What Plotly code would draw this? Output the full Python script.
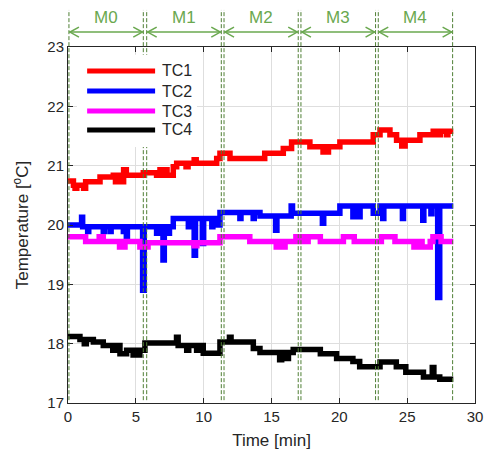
import plotly.graph_objects as go

# ---------------- data (step breakpoints) ----------------
tc1_t = [0, 0.4, 0.52, 0.65, 1.15, 1.3, 2.36, 3.34, 3.5, 3.65, 3.95, 4.1, 4.3, 5.55, 6.53, 6.78, 6.9,
         7.15, 7.3, 7.76, 8.01, 8.7, 8.85, 9.3, 9.45, 10.96, 11.2, 11.94, 14.5, 15.87, 16.48, 17.83,
         18.8, 19.2, 20.04, 22.5, 23.0, 23.73, 24.22, 24.6, 24.85, 25.94, 26.92, 27.3, 27.45, 27.9,
         28.0, 28.4]
tc1_v = [20.74, 20.67, 20.62, 20.67, 20.62, 20.73, 20.81, 20.84, 20.73, 20.84, 20.73, 20.93, 20.84,
         20.88, 20.84, 20.93, 20.84, 20.93, 20.84, 20.98, 21.04, 20.98, 21.04, 21.10, 21.04, 21.12,
         21.21, 21.12, 21.21, 21.29, 21.40, 21.32, 21.23, 21.32, 21.40, 21.52, 21.60, 21.52, 21.43,
         21.33, 21.43, 21.52, 21.58, 21.52, 21.58, 21.52, 21.58, 21.58]

tc2_t = [0, 1.0, 1.08, 1.45, 1.53, 2.6, 2.68, 3.1, 3.18, 4.08, 4.16, 4.3, 4.38, 5.5, 5.62, 6.53, 6.61,
         7.0, 7.1, 7.4, 7.48, 7.76, 8.87, 8.95, 9.3, 9.4, 9.9, 10.0, 10.6, 10.68, 10.96, 11.2,
         12.67, 12.75, 13.65, 13.73, 14.15, 15.3, 15.4, 16.45, 16.55, 18.75, 18.85, 20.04, 21.0, 21.08,
         21.45, 21.53, 22.5, 23.0, 23.2, 23.28, 24.65, 24.73, 26.15, 26.23, 26.75, 26.83, 27.25, 27.4,
         28.4]
tc2_v = [20.00, 20.13, 19.97, 19.89, 19.97, 19.89, 19.97, 19.89, 19.97, 19.89, 19.97, 19.80, 19.97,
         18.90, 19.97, 19.86, 19.97, 19.41, 19.97, 19.86, 19.97, 20.11, 19.97, 20.11, 19.49, 20.11,
         19.69, 20.11, 19.97, 20.11, 20.00, 20.21, 20.11, 20.21, 20.11, 20.21, 20.15, 19.91, 20.15,
         20.32, 20.20, 20.03, 20.20, 20.32, 20.14, 20.32, 20.14, 20.32, 20.20, 20.32, 20.11, 20.32,
         20.11, 20.32, 20.08, 20.32, 20.19, 20.32, 18.78, 20.32, 20.32]

tc3_t = [0, 1.3, 2.3, 2.6, 3.8, 4.2, 5.3, 5.9, 9.3, 9.5, 11.2, 13.4, 15.35, 15.5, 15.85, 16.0, 16.8,
         17.2, 17.35, 17.55, 17.7, 18.6, 20.3, 21.1, 23.1, 24.1, 25.5, 25.9, 26.1, 26.7, 26.9, 27.5,
         28.4]
tc3_v = [19.80, 19.72, 19.80, 19.72, 19.63, 19.72, 19.63, 19.70, 19.65, 19.70, 19.80, 19.72, 19.63,
         19.72, 19.63, 19.72, 19.80, 19.72, 19.80, 19.72, 19.80, 19.72, 19.80, 19.72, 19.80, 19.72,
         19.63, 19.72, 19.63, 19.72, 19.80, 19.72, 19.72]

tc4_t = [0, 0.88, 1.2, 1.35, 1.87, 2.6, 3.3, 3.45, 3.83, 4.32, 4.8, 4.95, 5.1, 5.3, 5.67, 8.0, 8.12,
         8.75, 8.9, 9.48, 9.6, 9.97, 11.2, 11.9, 12.02, 13.66, 14.15, 15.6, 15.75, 16.1, 16.25, 16.6,
         18.6, 19.8, 21.0, 21.5, 23.0, 24.2, 24.9, 26.2, 26.85, 26.97, 27.4, 28.4]
tc4_v = [18.12, 18.07, 18.00, 18.07, 18.03, 17.97, 17.89, 17.97, 17.83, 17.89, 17.81, 17.89, 17.81,
         17.89, 18.01, 18.11, 17.97, 17.89, 17.97, 17.89, 17.97, 17.84, 18.03, 18.11, 18.03, 17.92,
         17.85, 17.73, 17.85, 17.75, 17.85, 17.90, 17.83, 17.75, 17.70, 17.61, 17.69, 17.61, 17.52,
         17.44, 17.60, 17.44, 17.40, 17.40]

series_names = ["TC1", "TC2", "TC3", "TC4"]
series_colors = ["#ff0000", "#0000ff", "#ff00ff", "#000000"]

phase_labels = ["M0", "M1", "M2", "M3", "M4"]
phase_bounds = [0.07, 5.55, 5.8, 11.3, 11.5, 16.97, 17.17, 22.67, 22.87, 28.35]
phase_spans = [(0.07, 5.55), (5.8, 11.3), (11.5, 16.97), (17.17, 22.67), (22.87, 28.35)]

x_ticks = [0, 5, 10, 15, 20, 25, 30]
y_ticks = [17, 18, 19, 20, 21, 22, 23]

# ---------------- figure ----------------
GREEN = "#6aa84f"
DGREEN = "#4f7f35"
AX = "#262626"
FONT = "Liberation Sans, Arial, sans-serif"
ARROW_Y = 1.042

fig = go.Figure()
for t, v, name, col in zip([tc1_t, tc2_t, tc3_t, tc4_t], [tc1_v, tc2_v, tc3_v, tc4_v],
                           series_names, series_colors):
    fig.add_trace(go.Scatter(x=t, y=v, mode="lines", name=name, line_shape="hv",
                             line=dict(color=col, width=5.5), showlegend=False))

shapes = []
for b in phase_bounds:
    shapes.append(dict(type="line", xref="x", yref="paper", x0=b, x1=b, y0=0.008, y1=1.104,
                       line=dict(color=DGREEN, width=1, dash="4px,2px"), layer="above"))

# double-headed phase arrows (line + open chevrons sized in pixels)
for a, b in phase_spans:
    shapes.append(dict(type="line", xref="x", yref="paper", x0=a, x1=b, y0=ARROW_Y, y1=ARROW_Y,
                       line=dict(color=GREEN, width=1.5), layer="above"))
    shapes.append(dict(type="path", xref="x", yref="paper", xsizemode="pixel", ysizemode="pixel",
                       xanchor=a, yanchor=ARROW_Y, path="M 10,-5 L 1,0 L 10,5",
                       line=dict(color=GREEN, width=1.5), layer="above"))
    shapes.append(dict(type="path", xref="x", yref="paper", xsizemode="pixel", ysizemode="pixel",
                       xanchor=b, yanchor=ARROW_Y, path="M -10,-5 L -1,0 L -10,5",
                       line=dict(color=GREEN, width=1.5), layer="above"))

# legend box (drawn manually to match long sample lines)
shapes.append(dict(type="rect", xref="paper", yref="paper", x0=0.022, x1=0.317, y0=0.719, y1=0.978,
                   fillcolor="white", line=dict(width=0), layer="above"))
leg_rows = [0.9326, 0.8764, 0.8202, 0.7669]
annotations = []
for name, col, yy in zip(series_names, series_colors, leg_rows):
    shapes.append(dict(type="line", xref="paper", yref="paper", x0=0.047, x1=0.214, y0=yy, y1=yy,
                       line=dict(color=col, width=5), layer="above"))
    annotations.append(dict(text=name, xref="paper", yref="paper", x=0.226, y=yy, xanchor="left",
                            yanchor="middle", showarrow=False,
                            font=dict(family=FONT, size=16, color=AX)))

for lab, (a, b) in zip(phase_labels, phase_spans):
    annotations.append(dict(text=lab, xref="x", yref="paper", x=(a + b) / 2, y=1.084,
                            showarrow=False, xanchor="center", yanchor="middle",
                            font=dict(family=FONT, size=17, color=GREEN)))

fig.update_layout(
    width=485, height=456,
    margin=dict(l=68, r=10, t=47, b=53),
    paper_bgcolor="white", plot_bgcolor="white",
    font=dict(family=FONT, size=15, color=AX),
    shapes=shapes, annotations=annotations,
    showlegend=False,
)
fig.update_xaxes(range=[0, 30], tickvals=x_ticks, showgrid=True, gridcolor="#dedede", gridwidth=1,
                 showline=True, linecolor=AX, linewidth=1, mirror="allticks", ticks="inside",
                 ticklen=5, tickcolor=AX, zeroline=False, automargin=False,
                 title=dict(text="Time [min]", font=dict(size=17, color=AX), standoff=10),
                 tickfont=dict(size=15, color=AX))
fig.update_yaxes(range=[17, 23], tickvals=y_ticks, showgrid=True, gridcolor="#dedede", gridwidth=1,
                 showline=True, linecolor=AX, linewidth=1, mirror="allticks", ticks="inside",
                 ticklen=5, tickcolor=AX, zeroline=False, automargin=False,
                 title=dict(text="Temperature [<sup>o</sup>C]", font=dict(size=17, color=AX),
                            standoff=14),
                 tickfont=dict(size=15, color=AX))

fig.write_html("out.html")
